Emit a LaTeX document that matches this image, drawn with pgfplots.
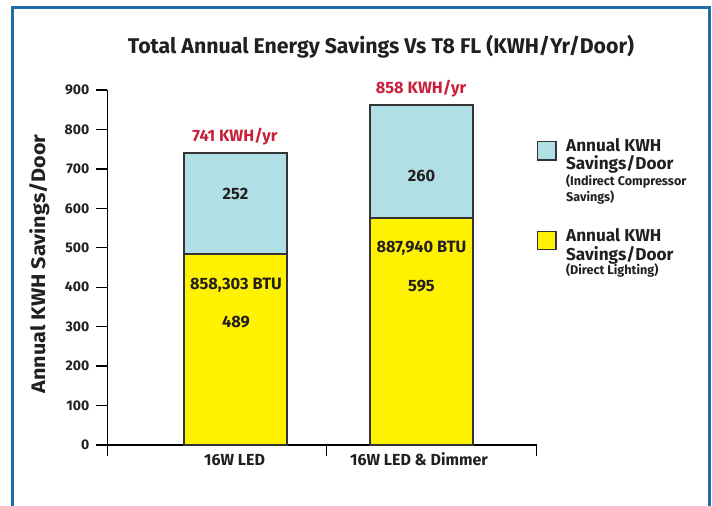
\documentclass[border=0pt]{standalone}
\usepackage{fontspec}
\setmainfont{Fira Sans}
\newfontfamily\widefont[FakeStretch=1.1]{Fira Sans}
\usepackage{pgfplots}
\pgfplotsset{compat=1.18}
\definecolor{cyanbar}{HTML}{B0DFE5}
\definecolor{yellowbar}{HTML}{FFF200}
\definecolor{redlab}{HTML}{C8203A}
\definecolor{frameblue}{HTML}{1F6EA8}
\definecolor{edge}{HTML}{333333}
\definecolor{txt}{HTML}{231F20}

\begin{document}
\begin{tikzpicture}
\begin{scope}[x=0.5pt,y=-0.5pt]
\path[use as bounding box] (0,0) rectangle (712,506);
\draw[frameblue, line width=1.5pt] (12.5,520) -- (12.5,8) -- (709.5,8) -- (709.5,520);
% title
\node[anchor=base, inner sep=0pt, text=txt, font=\fontsize{10.65}{12}\selectfont\bfseries] at (381,54) {Total Annual Energy Savings Vs T8 FL (KWH/Yr/Door)};
% y label
\node[rotate=90, anchor=base, inner sep=0pt, text=txt, font=\widefont\fontsize{9.8}{11}\selectfont\bfseries] at (45,264) {Annual KWH Savings/Door};
% category labels
\node[anchor=base, inner sep=0pt, text=txt, font=\fontsize{8}{9}\selectfont\bfseries] at (234.5,466) {16W LED};
\node[anchor=base, inner sep=0pt, text=txt, font=\fontsize{8}{9}\selectfont\bfseries] at (419,466) {16W LED \& Dimmer};
% legend
\draw[edge, line width=0.8pt, fill=cyanbar] (537.5,141.7) rectangle (556,160);
\draw[edge, line width=0.8pt, fill=yellowbar] (537.5,231.7) rectangle (556,249.5);
\begin{scope}[every node/.style={anchor=base west, inner sep=0pt, text=txt}]
\node[font=\fontsize{8.6}{10}\selectfont\bfseries] at (565.7,151.7) {Annual KWH};
\node[font=\fontsize{8.6}{10}\selectfont\bfseries] at (565.7,170) {Savings/Door};
\node[font=\fontsize{6.3}{8}\selectfont\bfseries] at (565.7,186) {(Indirect Compressor};
\node[font=\fontsize{6.3}{8}\selectfont\bfseries] at (565.7,202) {Savings)};
\node[font=\fontsize{8.6}{10}\selectfont\bfseries] at (565.7,241.7) {Annual KWH};
\node[font=\fontsize{8.6}{10}\selectfont\bfseries] at (565.7,260.7) {Savings/Door};
\node[font=\fontsize{6.3}{8}\selectfont\bfseries] at (565.7,275) {(Direct Lighting)};
\end{scope}
\end{scope}
\begin{axis}[
  at={(53.65pt,-222.5pt)}, anchor=south west,
  scale only axis, width=214.7pt, height=177.5pt,
  xmin=0.311, xmax=2.619, ymin=0, ymax=900,
  axis lines=left, axis line style={-, line width=0.65pt, black},
  ybar stacked, bar width=51.5pt,
  xtick={0.311,1.49,2.619}, xticklabels={},
  ytick={0,100,...,900},
  tick align=outside, major tick length=5.5pt,
  tick style={line width=0.65pt, black},
  yticklabel style={font=\fontsize{7}{8}\selectfont\bfseries, text=txt},
  /pgf/number format/assume math mode=true,
  clip=false,
]
\addplot[fill=yellowbar, draw=edge, line width=0.75pt] coordinates {(1,484) (2,575)};
\addplot[fill=cyanbar, draw=edge, line width=0.75pt] coordinates {(1,256) (2,287)};
\end{axis}
\begin{scope}[x=0.5pt,y=-0.5pt, every node/.style={anchor=base, inner sep=0pt, text=txt, font=\fontsize{8.2}{10}\selectfont\bfseries}]
\node[text=redlab] at (235,141.7) {741 KWH/yr};
\node[text=redlab] at (421,93.3) {858 KWH/yr};
\node at (235.5,199.3) {252};
\node at (236,289.3) {858,303 BTU};
\node at (236,327.3) {489};
\node at (421.5,181.7) {260};
\node at (421.5,252.3) {887,940 BTU};
\node at (421.5,291.7) {595};
\end{scope}
\end{tikzpicture}
\end{document}
